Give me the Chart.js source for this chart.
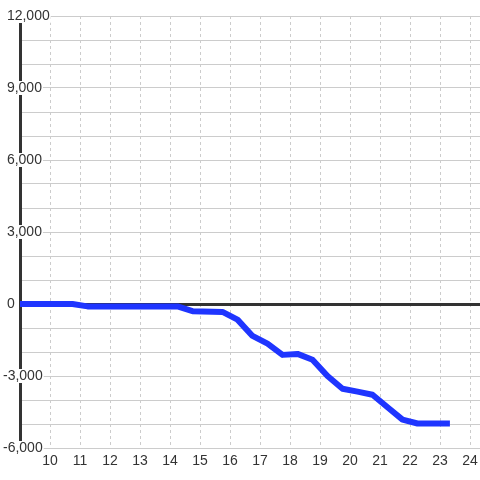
<!DOCTYPE html>
<html>
<head>
<meta charset="utf-8">
<script src="https://cdn.jsdelivr.net/npm/chart.js@4"></script>
<style>
  body { margin: 0; background: #fff; }
  #wrap { width: 480px; height: 480px; }
</style>
</head>
<body>
<div id="wrap"><canvas id="chart" width="480" height="480"></canvas></div>
<script>
// x positions (hours) and cumulative values
const hours = [9, 10.75, 11.25, 14.25, 14.75, 15.75, 16.25, 16.75, 17.25, 17.75, 18.25,
  18.75, 19.25, 19.75, 20.25, 20.75, 21.25, 21.75, 22.25, 23.33];
const values = [0, 0, -100, -100, -300, -330, -650, -1330, -1650, -2120, -2080,
  -2320, -3000, -3530, -3650, -3780, -4300, -4820, -4980, -4980];

const xMin = 9, xMax = 24.333;
const yMin = -6000, yMax = 12000;
const yLabelEvery = 3000;

const points = hours.map((h, i) => ({ x: h, y: values[i] }));

const tickFont = { family: "'Liberation Sans', Arial, sans-serif", size: 14, lineHeight: 1 };

new Chart(document.getElementById('chart'), {
  type: 'line',
  data: {
    datasets: [{
      data: points,
      borderColor: '#1f35ff',
      borderWidth: 6,
      borderCapStyle: 'butt',
      borderJoinStyle: 'round',
      pointRadius: 0,
      tension: 0,
      fill: false
    }]
  },
  options: {
    responsive: false,
    animation: false,
    layout: { padding: { left: 3, top: 16, right: 0, bottom: 0 } },
    plugins: { legend: { display: false }, tooltip: { enabled: false } },
    scales: {
      x: {
        type: 'linear',
        min: xMin,
        max: xMax,
        afterFit: s => { s.height = 32; s.paddingLeft = 0; s.paddingRight = 0; },
        grid: { color: '#cccccc', lineWidth: 1, drawTicks: false },
        border: { display: false, dash: [3, 3] },
        ticks: {
          stepSize: 1,
          includeBounds: false,
          autoSkip: false,
          maxRotation: 0,
          padding: 6,
          color: '#333',
          font: tickFont,
          callback: v => (v === xMin ? null : String(v))
        }
      },
      y: {
        min: yMin,
        max: yMax,
        afterFit: s => { s.width = 17; },
        grid: {
          drawTicks: false,
          color: ctx => (ctx.tick && ctx.tick.value === 0 ? '#333' : '#cccccc'),
          lineWidth: ctx => (ctx.tick && ctx.tick.value === 0 ? 3 : 1)
        },
        border: { display: true, color: '#333', width: 3 },
        ticks: {
          stepSize: 1000,
          mirror: true,
          crossAlign: 'near',
          padding: -17,
          color: '#333',
          font: tickFont,
          showLabelBackdrop: true,
          backdropColor: '#ffffff',
          backdropPadding: { left: 1, right: 1, top: 0, bottom: 0 },
          callback: v => {
            if (v % yLabelEvery !== 0) return '';
            const s = v.toLocaleString('en-US');
            return v < 0 ? s : ' ' + s;
          }
        }
      }
    }
  }
});
</script>
</body>
</html>
